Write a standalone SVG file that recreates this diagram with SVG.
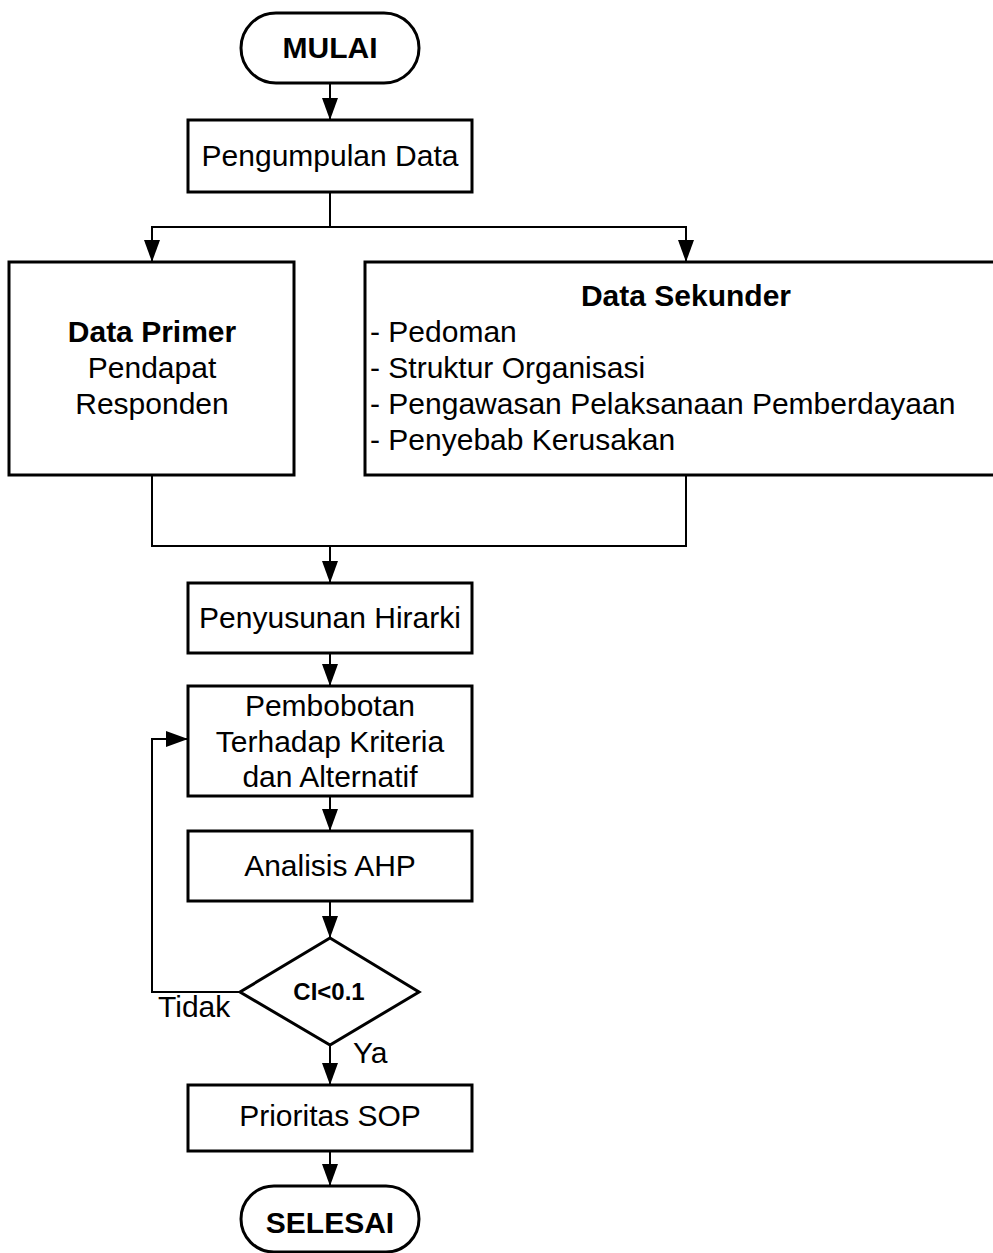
<svg xmlns="http://www.w3.org/2000/svg" width="993" height="1253" viewBox="0 0 993 1253">
  <style>
    .box { fill: #ffffff; stroke: #000000; stroke-width: 3; }
    .line { fill: none; stroke: #000000; stroke-width: 2; }
    .t { font-family: "Liberation Sans", Arial, sans-serif; font-size: 30px; fill: #000000; }
    .c { text-anchor: middle; }
    .b { font-weight: bold; }
  </style>
  <defs>
    <marker id="arrow" markerUnits="userSpaceOnUse" markerWidth="24" markerHeight="18" refX="22" refY="8" orient="auto">
      <path d="M0,0 L22,8 L0,16 Z" fill="#000000"/>
    </marker>
  </defs>

  <g id="connectors">
    <line class="line" x1="330" y1="83" x2="330" y2="120" marker-end="url(#arrow)"/>
    <polyline class="line" points="330,192 330,227"/>
    <polyline class="line" points="152,262 152,227 686,227 686,262" marker-end="url(#arrow)"/>
    <line class="line" x1="152" y1="227" x2="152" y2="262" marker-end="url(#arrow)"/>
    <polyline class="line" points="152,475 152,546 686,546 686,475"/>
    <line class="line" x1="330" y1="546" x2="330" y2="583" marker-end="url(#arrow)"/>
    <line class="line" x1="330" y1="653" x2="330" y2="686" marker-end="url(#arrow)"/>
    <line class="line" x1="330" y1="796" x2="330" y2="831" marker-end="url(#arrow)"/>
    <line class="line" x1="330" y1="901" x2="330" y2="938" marker-end="url(#arrow)"/>
    <polyline class="line" points="240,992 152,992 152,739 188,739" marker-end="url(#arrow)"/>
    <line class="line" x1="330" y1="1045" x2="330" y2="1085" marker-end="url(#arrow)"/>
    <line class="line" x1="330" y1="1151" x2="330" y2="1186" marker-end="url(#arrow)"/>
    <text class="t" x="158" y="1017">Tidak</text>
    <text class="t" x="353" y="1063">Ya</text>
  </g>

  <g id="mulai">
    <rect class="box" x="241" y="13" width="178" height="70" rx="35" ry="35"/>
    <text class="t c b" x="330" y="58">MULAI</text>
  </g>

  <g id="pengumpulan-data">
    <rect class="box" x="188" y="120" width="284" height="72"/>
    <text class="t c" x="330" y="166">Pengumpulan Data</text>
  </g>

  <g id="data-primer">
    <rect class="box" x="9" y="262" width="285" height="213"/>
    <text class="t c b" x="152" y="342">Data Primer</text>
    <text class="t c" x="152" y="378">Pendapat</text>
    <text class="t c" x="152" y="414">Responden</text>
  </g>

  <g id="data-sekunder">
    <rect class="box" x="365" y="262" width="640" height="213"/>
    <text class="t c b" x="686" y="306">Data Sekunder</text>
    <text class="t" x="370" y="342">- Pedoman</text>
    <text class="t" x="370" y="378">- Struktur Organisasi</text>
    <text class="t" x="370" y="414">- Pengawasan Pelaksanaan Pemberdayaan</text>
    <text class="t" x="370" y="450">- Penyebab Kerusakan</text>
  </g>

  <g id="penyusunan-hirarki">
    <rect class="box" x="188" y="583" width="284" height="70"/>
    <text class="t c" x="330" y="628">Penyusunan Hirarki</text>
  </g>

  <g id="pembobotan">
    <rect class="box" x="188" y="686" width="284" height="110"/>
    <text class="t c" x="330" y="716">Pembobotan</text>
    <text class="t c" x="330" y="752">Terhadap Kriteria</text>
    <text class="t c" x="330" y="787">dan Alternatif</text>
  </g>

  <g id="analisis-ahp">
    <rect class="box" x="188" y="831" width="284" height="70"/>
    <text class="t c" x="330" y="876">Analisis AHP</text>
  </g>

  <g id="keputusan-ci">
    <polygon class="box" points="330,938 419,992 330,1045 240,992"/>
    <text class="t c b" x="329" y="1000" style="font-size:24px">CI&lt;0.1</text>
  </g>

  <g id="prioritas-sop">
    <rect class="box" x="188" y="1085" width="284" height="66"/>
    <text class="t c" x="330" y="1126">Prioritas SOP</text>
  </g>

  <g id="selesai">
    <rect class="box" x="241" y="1186" width="178" height="66" rx="33" ry="33"/>
    <text class="t c b" x="330" y="1233">SELESAI</text>
  </g>
</svg>
